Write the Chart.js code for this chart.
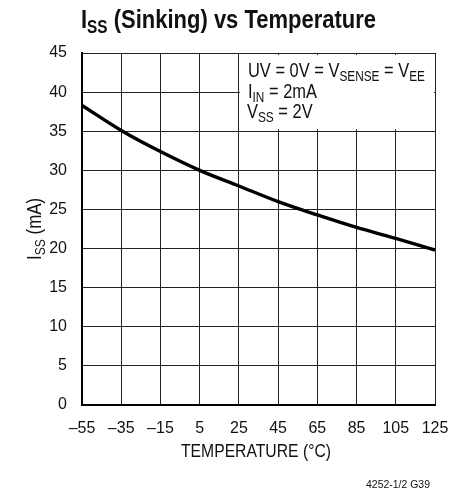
<!DOCTYPE html>
<html><head><meta charset="utf-8">
<script src="https://cdn.jsdelivr.net/npm/chart.js@4/dist/chart.umd.min.js"></script>
<style>html,body{margin:0;padding:0;background:#fff}#wrap{width:463px;height:494px;position:relative}</style>
</head><body><div id="wrap"><canvas id="c" width="463" height="494"></canvas></div>
<script>
const temperatures = [-55, -35, -15, 5, 25, 45, 65, 85, 105, 125];
const issValues = [38.3, 35.1, 32.4, 30.0, 28.0, 26.0, 24.3, 22.7, 21.3, 19.8];
const xTicks = [-55, -35, -15, 5, 25, 45, 65, 85, 105, 125];
const yTicks = [0, 5, 10, 15, 20, 25, 30, 35, 40, 45];
const FONT = "'Liberation Sans', Arial, sans-serif";

function partsWidth(ctx, parts, size, bold, subRatio) {
  let w = 0;
  for (const [t, sub] of parts) {
    ctx.font = (bold ? 'bold ' : '') + (sub ? size * subRatio : size) + 'px ' + FONT;
    w += ctx.measureText(t).width;
  }
  return w;
}
// draw rich text (with subscripts) horizontally squeezed to a given width
function drawRich(ctx, parts, opt) {
  const { x, y, size, bold, width, align = 'left', rotate = 0, subRatio = 0.72, drop = 0.22, sx: fixedSx } = opt;
  const nat = partsWidth(ctx, parts, size, bold, subRatio);
  const sx = fixedSx || (width ? width / nat : 1);
  const w = nat * sx;
  ctx.save();
  ctx.translate(x, y);
  if (rotate) ctx.rotate(rotate);
  let start = align === 'center' ? -w / 2 : (align === 'right' ? -w : 0);
  ctx.translate(start, 0);
  ctx.scale(sx, 1);
  ctx.textAlign = 'left';
  ctx.textBaseline = 'alphabetic';
  let cx = 0;
  for (const [t, sub] of parts) {
    ctx.font = (bold ? 'bold ' : '') + (sub ? size * subRatio : size) + 'px ' + FONT;
    ctx.fillText(t, cx, sub ? size * drop : 0);
    cx += ctx.measureText(t).width;
  }
  ctx.restore();
  return sx;
}

const overlay = {
  id: 'overlay',
  beforeDatasetsDraw(chart) {
    const ctx = chart.ctx, xs = chart.scales.x, ys = chart.scales.y;
    const x0 = xs.getPixelForValue(25) + 1, x1 = xs.getPixelForValue(125) - 1;
    const y0 = ys.getPixelForValue(45) + 2, y1 = ys.getPixelForValue(35) - 2;
    ctx.save();
    ctx.fillStyle = '#fff';
    ctx.fillRect(x0, y0, x1 - x0, y1 - y0);
    ctx.fillStyle = '#111';
    const sx = drawRich(ctx, [['UV = 0V = V', false], ['SENSE', true], [' = V', false], ['EE', true]],
      { x: 248, y: 77, size: 19.5, width: 177 });
    drawRich(ctx, [['I', false], ['IN', true], [' = 2mA', false]], { x: 248, y: 97.5, size: 19.5, sx });
    drawRich(ctx, [['V', false], ['SS', true], [' = 2V', false]], { x: 247, y: 118, size: 19.5, sx });
    ctx.restore();
  },
  afterDraw(chart) {
    const ctx = chart.ctx, area = chart.chartArea;
    ctx.save();
    ctx.fillStyle = '#111';
    drawRich(ctx, [['I', false], ['SS', true], [' (Sinking) vs Temperature', false]],
      { x: 81, y: 28, size: 26, bold: true, width: 295, subRatio: 0.7, drop: 0.2 });
    drawRich(ctx, [['I', false], ['SS', true], [' (mA)', false]],
      { x: 41, y: (area.top + area.bottom) / 2, size: 20, width: 62, align: 'center', rotate: -Math.PI / 2 });
    drawRich(ctx, [['TEMPERATURE (°C)', false]], { x: 256, y: 456.5, size: 18, width: 150, align: 'center' });
    drawRich(ctx, [['4252-1/2 G39', false]], { x: 430, y: 488, size: 11.5, width: 64, align: 'right' });
    ctx.restore();
  }
};

new Chart(document.getElementById('c'), {
  type: 'line',
  data: {
    datasets: [{
      data: temperatures.map((t, i) => ({ x: t, y: issValues[i] })),
      borderColor: '#000',
      borderWidth: 3.4,
      pointRadius: 0,
      cubicInterpolationMode: 'monotone',
      fill: false
    }]
  },
  options: {
    responsive: false,
    animation: false,
    devicePixelRatio: 1,
    layout: { padding: { top: 53, right: 28, left: 0, bottom: 0 } },
    plugins: { legend: { display: false }, title: { display: false }, tooltip: { enabled: false } },
    scales: {
      x: {
        type: 'linear', min: -55, max: 125,
        afterBuildTicks(s) { s.ticks = xTicks.map(v => ({ value: v })); },
        afterFit(s) { s.height = 89; },
        grid: { color: '#222', lineWidth: 1, drawTicks: false },
        border: { color: '#000', width: 2 },
        ticks: {
          color: '#111', padding: 14, maxRotation: 0, autoSkip: false,
          font: { family: FONT, size: 16 },
          callback: v => (v < 0 ? '\u2013' + Math.abs(v) : '' + v)
        }
      },
      y: {
        type: 'linear', min: 0, max: 45,
        afterBuildTicks(s) { s.ticks = yTicks.map(v => ({ value: v })); },
        afterFit(s) { s.width = 82; },
        grid: { color: '#222', lineWidth: 1, drawTicks: false },
        border: { color: '#000', width: 2 },
        ticks: {
          color: '#111', padding: 15,
          font: { family: FONT, size: 16 }
        }
      }
    }
  },
  plugins: [overlay]
});
</script></body></html>
